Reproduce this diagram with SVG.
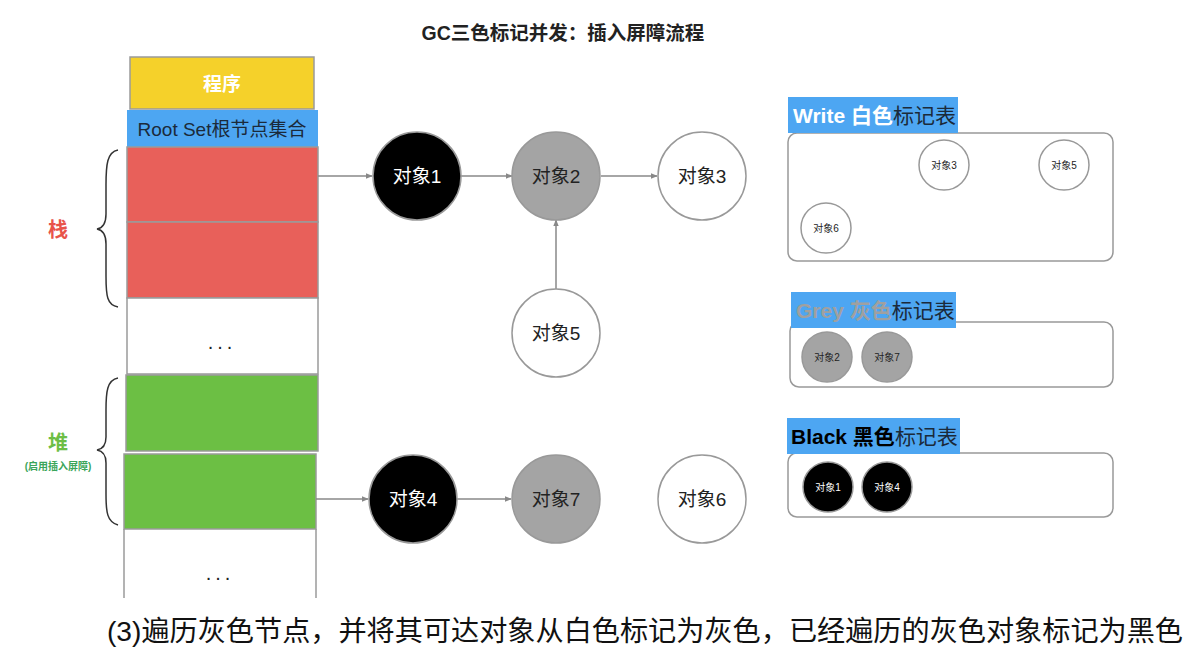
<svg xmlns="http://www.w3.org/2000/svg" width="1200" height="658" viewBox="0 0 1200 658">
<defs>
<marker id="arr" viewBox="0 0 10 10" refX="9" refY="5" markerWidth="7" markerHeight="7" orient="auto" markerUnits="userSpaceOnUse">
<path d="M0,1 L10,5 L0,9 z" fill="#888"/>
</marker>
<style>
text{font-family:"Liberation Sans","Noto Sans CJK SC",sans-serif;}
.cell{stroke:#9a9a9a;stroke-width:1.5;}
.node{stroke:#999;stroke-width:1.5;}
.big{font-size:19px;text-anchor:middle;dominant-baseline:central;}
.small{font-size:10px;text-anchor:middle;dominant-baseline:central;}
.edge{stroke:#888;stroke-width:1.5;fill:none;marker-end:url(#arr);}
.panel{fill:#fff;stroke:#999;stroke-width:1.5;}
.lbl{font-size:21px;}
.brace{fill:none;stroke:#333;stroke-width:1.5;}
</style>
</defs>
<rect width="1200" height="658" fill="#fff"/>
<text x="563" y="40" font-size="19.5" font-weight="bold" text-anchor="middle" fill="#222">GC三色标记并发：插入屏障流程</text>

<g id="stack">
<rect x="130" y="57" width="184" height="52" fill="#F5D12A" class="cell"/>
<text x="222" y="84" class="big" fill="#fff" font-weight="bold">程序</text>
<rect x="127" y="110" width="191" height="37" fill="#4DA6F2"/>
<text x="222" y="129" class="big" fill="#1b2a3a">Root Set根节点集合</text>
<rect x="127" y="147" width="191" height="75" fill="#E8605A" class="cell"/>
<rect x="127" y="222" width="191" height="76" fill="#E8605A" class="cell"/>
<rect x="127" y="298" width="191" height="76" fill="#fff" class="cell"/>
<text x="222" y="349" font-size="20" text-anchor="middle" fill="#222" letter-spacing="4">...</text>
<rect x="126" y="375" width="192" height="76" fill="#6CBF44" class="cell"/>
<rect x="124" y="454" width="192" height="75" fill="#6CBF44" class="cell"/>
<path d="M124,529 L124,598 M316,529 L316,598" class="cell" fill="none"/>
<text x="220" y="580" font-size="20" text-anchor="middle" fill="#222" letter-spacing="4">...</text>
</g>

<g id="stack-label">
<path class="brace" d="M118,150 C107,152 106,165 106,185 L106,214 C106,223 103,228 97,229 C103,230 106,235 106,244 L106,276 C106,296 107,305 118,307"/>
<text x="58" y="230" font-size="20" font-weight="bold" text-anchor="middle" dominant-baseline="central" fill="#E8534A">栈</text>
</g>
<g id="heap-label">
<path class="brace" d="M118,378 C107,380 106,392 106,410 L106,437 C106,445 103,449 97,450 C103,451 106,455 106,463 L106,494 C106,512 107,522 118,525"/>
<text x="58" y="443" font-size="20" font-weight="bold" text-anchor="middle" dominant-baseline="central" fill="#6DBE45">堆</text>
<text x="58" y="466" font-size="10" font-weight="bold" text-anchor="middle" dominant-baseline="central" fill="#3aa55a">(启用插入屏障)</text>
</g>

<g id="connectors">
<line x1="318" y1="176" x2="372" y2="176" class="edge"/>
<line x1="461" y1="176" x2="512" y2="176" class="edge"/>
<line x1="601" y1="176" x2="657" y2="176" class="edge"/>
<line x1="556" y1="289" x2="556" y2="220" class="edge"/>
<line x1="316" y1="499" x2="368" y2="499" class="edge"/>
<line x1="457" y1="499" x2="511" y2="499" class="edge"/>
</g>

<g id="obj1"><circle cx="417" cy="176" r="44" fill="#000" class="node"/><text x="417" y="176" class="big" fill="#fff">对象1</text></g>
<g id="obj2"><circle cx="556" cy="176" r="44" fill="#a4a4a4" class="node"/><text x="556" y="176" class="big" fill="#222">对象2</text></g>
<g id="obj3"><circle cx="702" cy="176" r="44" fill="#fff" class="node"/><text x="702" y="176" class="big" fill="#222">对象3</text></g>
<g id="obj5"><circle cx="556" cy="333" r="44" fill="#fff" class="node"/><text x="556" y="333" class="big" fill="#222">对象5</text></g>
<g id="obj4"><circle cx="413" cy="499" r="44" fill="#000" class="node"/><text x="413" y="499" class="big" fill="#fff">对象4</text></g>
<g id="obj7"><circle cx="556" cy="499" r="44" fill="#a4a4a4" class="node"/><text x="556" y="499" class="big" fill="#222">对象7</text></g>
<g id="obj6"><circle cx="702" cy="499" r="44" fill="#fff" class="node"/><text x="702" y="499" class="big" fill="#222">对象6</text></g>

<g id="white-table">
<rect x="788" y="133" width="325" height="128" rx="9" class="panel"/>
<rect x="788" y="97" width="170" height="36" fill="#4DA6F2"/>
<text x="793" y="123" class="lbl"><tspan fill="#fff" font-weight="bold">Write 白色</tspan><tspan fill="#1b2a3a">标记表</tspan></text>
<circle cx="944" cy="165" r="25" fill="#fff" class="node"/><text x="944" y="165" class="small" fill="#222">对象3</text>
<circle cx="1064" cy="165" r="25" fill="#fff" class="node"/><text x="1064" y="165" class="small" fill="#222">对象5</text>
<circle cx="826" cy="228" r="25" fill="#fff" class="node"/><text x="826" y="228" class="small" fill="#222">对象6</text>
</g>

<g id="grey-table">
<rect x="790" y="322" width="323" height="65" rx="9" class="panel"/>
<rect x="791" y="292" width="165" height="36" fill="#4DA6F2"/>
<text x="796" y="318" class="lbl"><tspan fill="#a0a0a0" font-weight="bold">Grey 灰色</tspan><tspan fill="#1b2a3a">标记表</tspan></text>
<circle cx="827" cy="357" r="25" fill="#a4a4a4" class="node"/><text x="827" y="357" class="small" fill="#222">对象2</text>
<circle cx="887" cy="357" r="25" fill="#a4a4a4" class="node"/><text x="887" y="357" class="small" fill="#222">对象7</text>
</g>

<g id="black-table">
<rect x="788" y="453" width="325" height="64" rx="9" class="panel"/>
<rect x="787" y="418" width="173" height="36" fill="#4DA6F2"/>
<text x="791" y="444" class="lbl"><tspan fill="#000" font-weight="bold">Black 黑色</tspan><tspan fill="#1b2a3a">标记表</tspan></text>
<circle cx="828" cy="487" r="25" fill="#000" class="node"/><text x="828" y="487" class="small" fill="#fff">对象1</text>
<circle cx="887" cy="487" r="25" fill="#000" class="node"/><text x="887" y="487" class="small" fill="#fff">对象4</text>
</g>

<text x="107" y="641" font-size="28" fill="#111" textLength="1076" lengthAdjust="spacingAndGlyphs">(3)遍历灰色节点，并将其可达对象从白色标记为灰色，已经遍历的灰色对象标记为黑色</text>
</svg>
